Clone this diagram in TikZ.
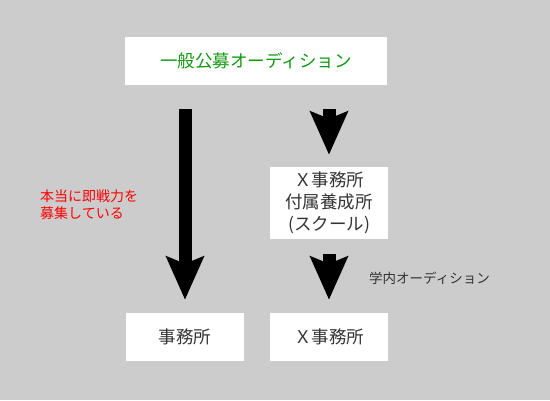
\documentclass[tikz,border=0pt]{standalone}
\usepackage{fontspec}
\setmainfont{Noto Sans CJK JP}
\usetikzlibrary{arrows.meta}
\definecolor{bggray}{HTML}{CCCCCC}
\definecolor{txtgray}{HTML}{333333}
\definecolor{kougreen}{HTML}{119911}

\tikzset{
	box/.style={fill=white, text=txtgray, inner sep=0pt, align=center,
		font=\fontsize{17.5}{22}\selectfont},
	flow/.style={line width=13pt, -{Stealth[length=43pt,width=37pt,inset=7pt]}}
}

\begin{document}
\begin{tikzpicture}[x=1pt,y=-1pt]
	\fill[bggray] (0,0) rectangle (550,400);
	\node[box, minimum width=262pt, minimum height=48pt, text=kougreen] (koubo) at (256,61) {一般公募オーディション};
	\node[box, minimum width=118pt, minimum height=72pt] (school) at (329,203) {Ｘ事務所\\付属養成所\\(スクール)};
	\node[box, minimum width=118pt, minimum height=48pt] (jimusho) at (185,337) {事務所};
	\node[box, minimum width=118pt, minimum height=48pt] (xjimusho) at (329,337) {Ｘ事務所};
	
	\draw[flow, shorten <=24pt, shorten >=13pt] (koubo.south -| jimusho) -- (jimusho.north);
	\draw[flow, shorten <=24pt, shorten >=12pt] (koubo.south -| school) -- (school.north);
	\draw[flow, shorten <=15pt, shorten >=13pt] (school.south) -- (xjimusho.north);
	
	\node[anchor=west, text=red, align=left, inner sep=0pt,
		font=\fontsize{14}{17}\selectfont] (sokusen) at (40,205) {本当に即戦力を\\募集している};
	\node[anchor=west, text=txtgray, inner sep=0pt,
		font=\fontsize{13.5}{16}\selectfont] (gakunai) at (369,278) {学内オーディション};
\end{tikzpicture}
\end{document}
